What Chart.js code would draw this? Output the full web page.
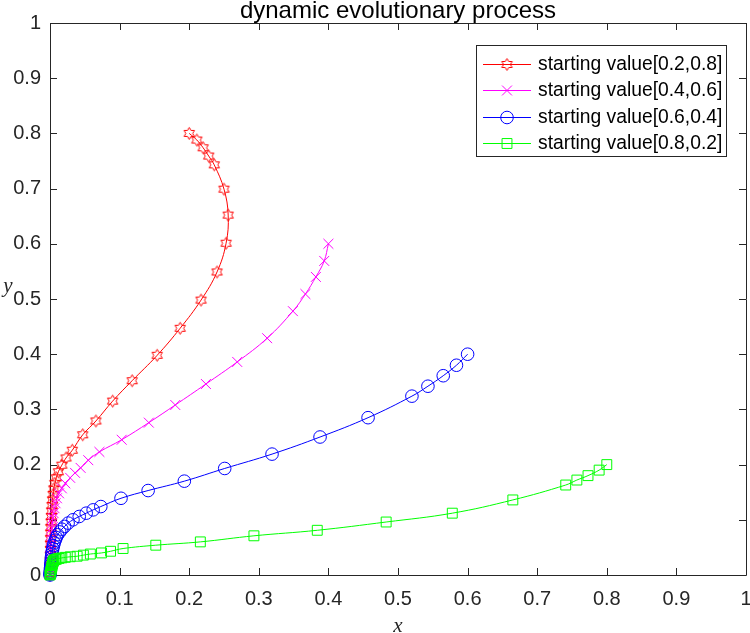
<!DOCTYPE html>
<html>
<head>
<meta charset="utf-8">
<title>dynamic evolutionary process</title>
<script src="https://cdn.jsdelivr.net/npm/chart.js@4/dist/chart.umd.min.js"></script>
<style>
  html, body { margin: 0; padding: 0; background: #fff; }
  #wrap { position: relative; width: 750px; height: 633px; }
  #legend {
    position: absolute; left: 476px; top: 45px; width: 251px; height: 112px;
    box-sizing: border-box; border: 1px solid #262626; background: #fff;
    padding: 5px 0 0 5px;
    font-family: "Liberation Sans", Arial, sans-serif; font-size: 19.3px; color: #000;
  }
  .row { display: flex; align-items: center; height: 26.3px; }
  .row canvas { margin-right: 6px; }
</style>
</head>
<body>
<div id="wrap">
  <canvas id="evolution" width="750" height="633"></canvas>
  <div id="legend"></div>
</div>
<script>
// series names
const seriesLabels = [
  "starting value[0.2,0.8]",
  "starting value[0.4,0.6]",
  "starting value[0.6,0.4]",
  "starting value[0.8,0.2]",
];

// trajectory, start point first, ends at the origin
const redX = [0.2, 0.211, 0.220, 0.228, 0.236, 0.250, 0.256, 0.253, 0.240, 0.217, 0.187, 0.154, 0.118, 0.090, 0.066, 0.047, 0.032, 0.023, 0.017, 0.012,
  0.009, 0.007, 0.0055, 0.0045, 0.0037, 0.003, 0.0025, 0.002, 0.0017, 0.0014, 0.0012, 0.001, 0.0008, 0.0007, 0.0005, 0.0004, 0.0003, 0.0002, 0.0001, 0];
const redY = [0.8, 0.788, 0.774, 0.759, 0.743, 0.699, 0.652, 0.601, 0.549, 0.498, 0.447, 0.398, 0.352, 0.315, 0.279, 0.254, 0.226, 0.212, 0.199, 0.187,
  0.176, 0.166, 0.156, 0.146, 0.136, 0.126, 0.116, 0.106, 0.096, 0.086, 0.076, 0.066, 0.056, 0.046, 0.036, 0.026, 0.017, 0.009, 0.003, 0];

const magentaX = [0.4, 0.394, 0.382, 0.367, 0.349, 0.312, 0.269, 0.224, 0.180, 0.142, 0.103, 0.071, 0.055, 0.044, 0.036, 0.029,
  0.022, 0.017, 0.013, 0.010, 0.008, 0.0065, 0.0052, 0.0042, 0.0034, 0.0027, 0.0022, 0.0017, 0.0013, 0.001, 0.0007, 0.0005, 0.0003, 0.0002, 0];
const magentaY = [0.6, 0.569, 0.540, 0.509, 0.478, 0.429, 0.386, 0.346, 0.308, 0.276, 0.245, 0.223, 0.208, 0.194, 0.185, 0.176,
  0.166, 0.157, 0.148, 0.139, 0.130, 0.121, 0.112, 0.103, 0.094, 0.085, 0.076, 0.066, 0.056, 0.046, 0.036, 0.026, 0.016, 0.008, 0];

const blueX = [0.6, 0.584, 0.565, 0.543, 0.520, 0.457, 0.388, 0.319, 0.251, 0.193, 0.141, 0.102, 0.073, 0.062, 0.052, 0.042, 0.033, 0.026, 0.021,
  0.017, 0.014, 0.011, 0.009, 0.0075, 0.006, 0.005, 0.004, 0.0033, 0.0027, 0.0022, 0.0018, 0.0014, 0.001, 0.0008, 0.0005, 0.0003, 0.0001, 0];
const blueY = [0.4, 0.380, 0.361, 0.342, 0.324, 0.285, 0.250, 0.219, 0.193, 0.170, 0.153, 0.139, 0.124, 0.118, 0.112, 0.106, 0.100, 0.094, 0.088,
  0.083, 0.078, 0.073, 0.068, 0.063, 0.058, 0.053, 0.048, 0.043, 0.038, 0.033, 0.028, 0.023, 0.018, 0.013, 0.009, 0.005, 0.002, 0];

const greenX = [0.8, 0.789, 0.773, 0.757, 0.741, 0.665, 0.578, 0.483, 0.384, 0.293, 0.216, 0.152, 0.105, 0.087, 0.074, 0.058, 0.048, 0.039, 0.029,
  0.022, 0.017, 0.013, 0.010, 0.008, 0.006, 0.005, 0.004, 0.0035, 0.003, 0.0025, 0.002, 0.0015, 0.001, 0.0006, 0.0003, 0];
const greenY = [0.2, 0.190, 0.180, 0.172, 0.163, 0.136, 0.112, 0.096, 0.081, 0.071, 0.060, 0.054, 0.048, 0.043, 0.040, 0.038, 0.036, 0.034, 0.033,
  0.032, 0.031, 0.030, 0.029, 0.028, 0.027, 0.025, 0.023, 0.020, 0.017, 0.014, 0.011, 0.008, 0.005, 0.003, 0.001, 0];

// axes
const xTickValues = [0, 0.1, 0.2, 0.3, 0.4, 0.5, 0.6, 0.7, 0.8, 0.9, 1];
const xTickLabels = ["0", "0.1", "0.2", "0.3", "0.4", "0.5", "0.6", "0.7", "0.8", "0.9", "1"];
const yTickValues = [0, 0.1, 0.2, 0.3, 0.4, 0.5, 0.6, 0.7, 0.8, 0.9, 1];
const yTickLabels = ["0", "0.1", "0.2", "0.3", "0.4", "0.5", "0.6", "0.7", "0.8", "0.9", "1"];

const AXIS_COLOR = "#262626";
const TICK_FONT = "Liberation Sans";

const toPoints = (xs, ys) => xs.map((x, i) => ({ x: x, y: ys[i] }));

// six pointed star, MATLAB 'h' marker
const hexagram = (color) => {
  const c = document.createElement("canvas");
  c.width = 15; c.height = 15;
  const ctx = c.getContext("2d");
  const R = 6, r = R / Math.sqrt(3);
  ctx.strokeStyle = color;
  ctx.lineWidth = 1;
  ctx.beginPath();
  for (let k = 0; k < 12; k++) {
    const a = -Math.PI / 2 + k * Math.PI / 6;
    const rr = k % 2 === 0 ? R : r;
    const px = 7.5 + rr * Math.cos(a), py = 7.5 + rr * Math.sin(a);
    if (k === 0) ctx.moveTo(px, py); else ctx.lineTo(px, py);
  }
  ctx.closePath();
  ctx.stroke();
  return c;
};

const redStar = hexagram("#ff0000");

const series = [
  { label: seriesLabels[0], color: "#ff0000", data: toPoints(redX, redY), style: redStar, radius: 6, order: 4 },
  { label: seriesLabels[1], color: "#ff00ff", data: toPoints(magentaX, magentaY), style: "crossRot", radius: 7, order: 3 },
  { label: seriesLabels[2], color: "#0000ff", data: toPoints(blueX, blueY), style: "circle", radius: 6.3, order: 2 },
  { label: seriesLabels[3], color: "#00ff00", data: toPoints(greenX, greenY), style: "rect", radius: 7, order: 1 },
];

// inward ticks on all four sides plus the box, like MATLAB axes
const boxTicks = {
  id: "boxTicks",
  beforeDatasetsDraw(chart) {
    const { ctx, chartArea: a, scales } = chart;
    const len = 7;
    ctx.save();
    ctx.strokeStyle = AXIS_COLOR;
    ctx.lineWidth = 1;
    ctx.beginPath();
    ctx.rect(Math.round(a.left) + 0.5, Math.round(a.top) + 0.5, Math.round(a.right - a.left), Math.round(a.bottom - a.top));
    xTickValues.forEach((v) => {
      const px = Math.round(scales.x.getPixelForValue(v)) + 0.5;
      ctx.moveTo(px, a.bottom); ctx.lineTo(px, a.bottom - len);
      ctx.moveTo(px, a.top); ctx.lineTo(px, a.top + len);
    });
    yTickValues.forEach((v) => {
      const py = Math.round(scales.y.getPixelForValue(v)) + 0.5;
      ctx.moveTo(a.left, py); ctx.lineTo(a.left + len, py);
      ctx.moveTo(a.right, py); ctx.lineTo(a.right - len, py);
    });
    ctx.stroke();
    ctx.restore();
  },
  afterDraw(chart) {
    const { ctx, chartArea: a } = chart;
    ctx.save();
    ctx.fillStyle = AXIS_COLOR;
    ctx.font = "italic 21px 'Liberation Serif', 'DejaVu Serif', serif";
    ctx.textAlign = "center";
    ctx.textBaseline = "alphabetic";
    ctx.fillText("x", (a.left + a.right) / 2, 632);
    ctx.fillText("y", 8, 292);
    ctx.restore();
  },
};

const ctx = document.querySelector("#evolution");
const evolutionChart = new Chart(ctx, {
  type: "scatter",
  data: {
    datasets: series.map((s) => ({
      label: s.label,
      data: s.data,
      order: s.order,
      showLine: true,
      tension: 0.4,
      clip: false,
      borderColor: s.color,
      borderWidth: 1,
      pointStyle: s.style,
      pointRadius: s.radius,
      pointHoverRadius: s.radius,
      pointBorderColor: s.color,
      pointBackgroundColor: "rgba(0,0,0,0)",
      pointBorderWidth: 1,
    })),
  },
  options: {
    responsive: false,
    devicePixelRatio: 1,
    animation: false,
    layout: { autoPadding: false, padding: { left: 0, right: 4, top: 0, bottom: 0 } },
    plugins: {
      legend: { display: false },
      tooltip: { enabled: false },
      title: {
        display: true,
        fullSize: false,
        text: "dynamic evolutionary process",
        color: "#000",
        font: { family: TICK_FONT, size: 24, weight: "normal", lineHeight: 23 / 24 },
        padding: { top: 0, bottom: 0 },
      },
    },
    scales: {
      x: {
        type: "linear",
        min: 0,
        max: 1,
        grid: { display: false, drawTicks: false },
        border: { display: false },
        afterBuildTicks: (scale) => { scale.ticks = xTickValues.map((v) => ({ value: v })); },
        afterFit: (scale) => { scale.height = 58; scale.paddingLeft = 0; scale.paddingRight = 0; },
        ticks: {
          padding: 12,
          maxRotation: 0,
          autoSkip: false,
          color: AXIS_COLOR,
          font: { family: TICK_FONT, size: 20 },
          callback: (value, index) => xTickLabels[index],
        },
      },
      y: {
        type: "linear",
        min: 0,
        max: 1,
        grid: { display: false, drawTicks: false },
        border: { display: false },
        afterBuildTicks: (scale) => { scale.ticks = yTickValues.map((v) => ({ value: v })); },
        afterFit: (scale) => { scale.width = 50; scale.paddingTop = 0; scale.paddingBottom = 0; },
        ticks: {
          padding: 9,
          autoSkip: false,
          color: AXIS_COLOR,
          font: { family: TICK_FONT, size: 20 },
          callback: (value, index) => yTickLabels[index],
        },
      },
    },
  },
  plugins: [boxTicks],
});

// legend: short line with the marker in the middle, then the label
const legendBox = document.querySelector("#legend");
series.forEach((s) => {
  const row = document.createElement("div");
  row.className = "row";
  const sym = document.createElement("canvas");
  sym.width = 50; sym.height = 20;
  const g = sym.getContext("2d");
  g.strokeStyle = s.color;
  g.lineWidth = 1;
  g.beginPath(); g.moveTo(1, 10.5); g.lineTo(49, 10.5); g.stroke();
  g.beginPath();
  if (s.style === "crossRot") {
    const d = 0.707 * s.radius;
    g.moveTo(25 - d, 10.5 - d); g.lineTo(25 + d, 10.5 + d);
    g.moveTo(25 + d, 10.5 - d); g.lineTo(25 - d, 10.5 + d);
    g.stroke();
  } else if (s.style === "circle") {
    g.arc(25, 10.5, s.radius, 0, Math.PI * 2); g.stroke();
  } else if (s.style === "rect") {
    const h = 0.707 * s.radius;
    g.rect(25 - h, 10.5 - h, 2 * h, 2 * h); g.stroke();
  } else {
    g.drawImage(s.style, 25 - s.style.width / 2, 10.5 - s.style.height / 2);
  }
  const text = document.createElement("span");
  text.textContent = s.label;
  row.appendChild(sym);
  row.appendChild(text);
  legendBox.appendChild(row);
});
</script>
</body>
</html>
